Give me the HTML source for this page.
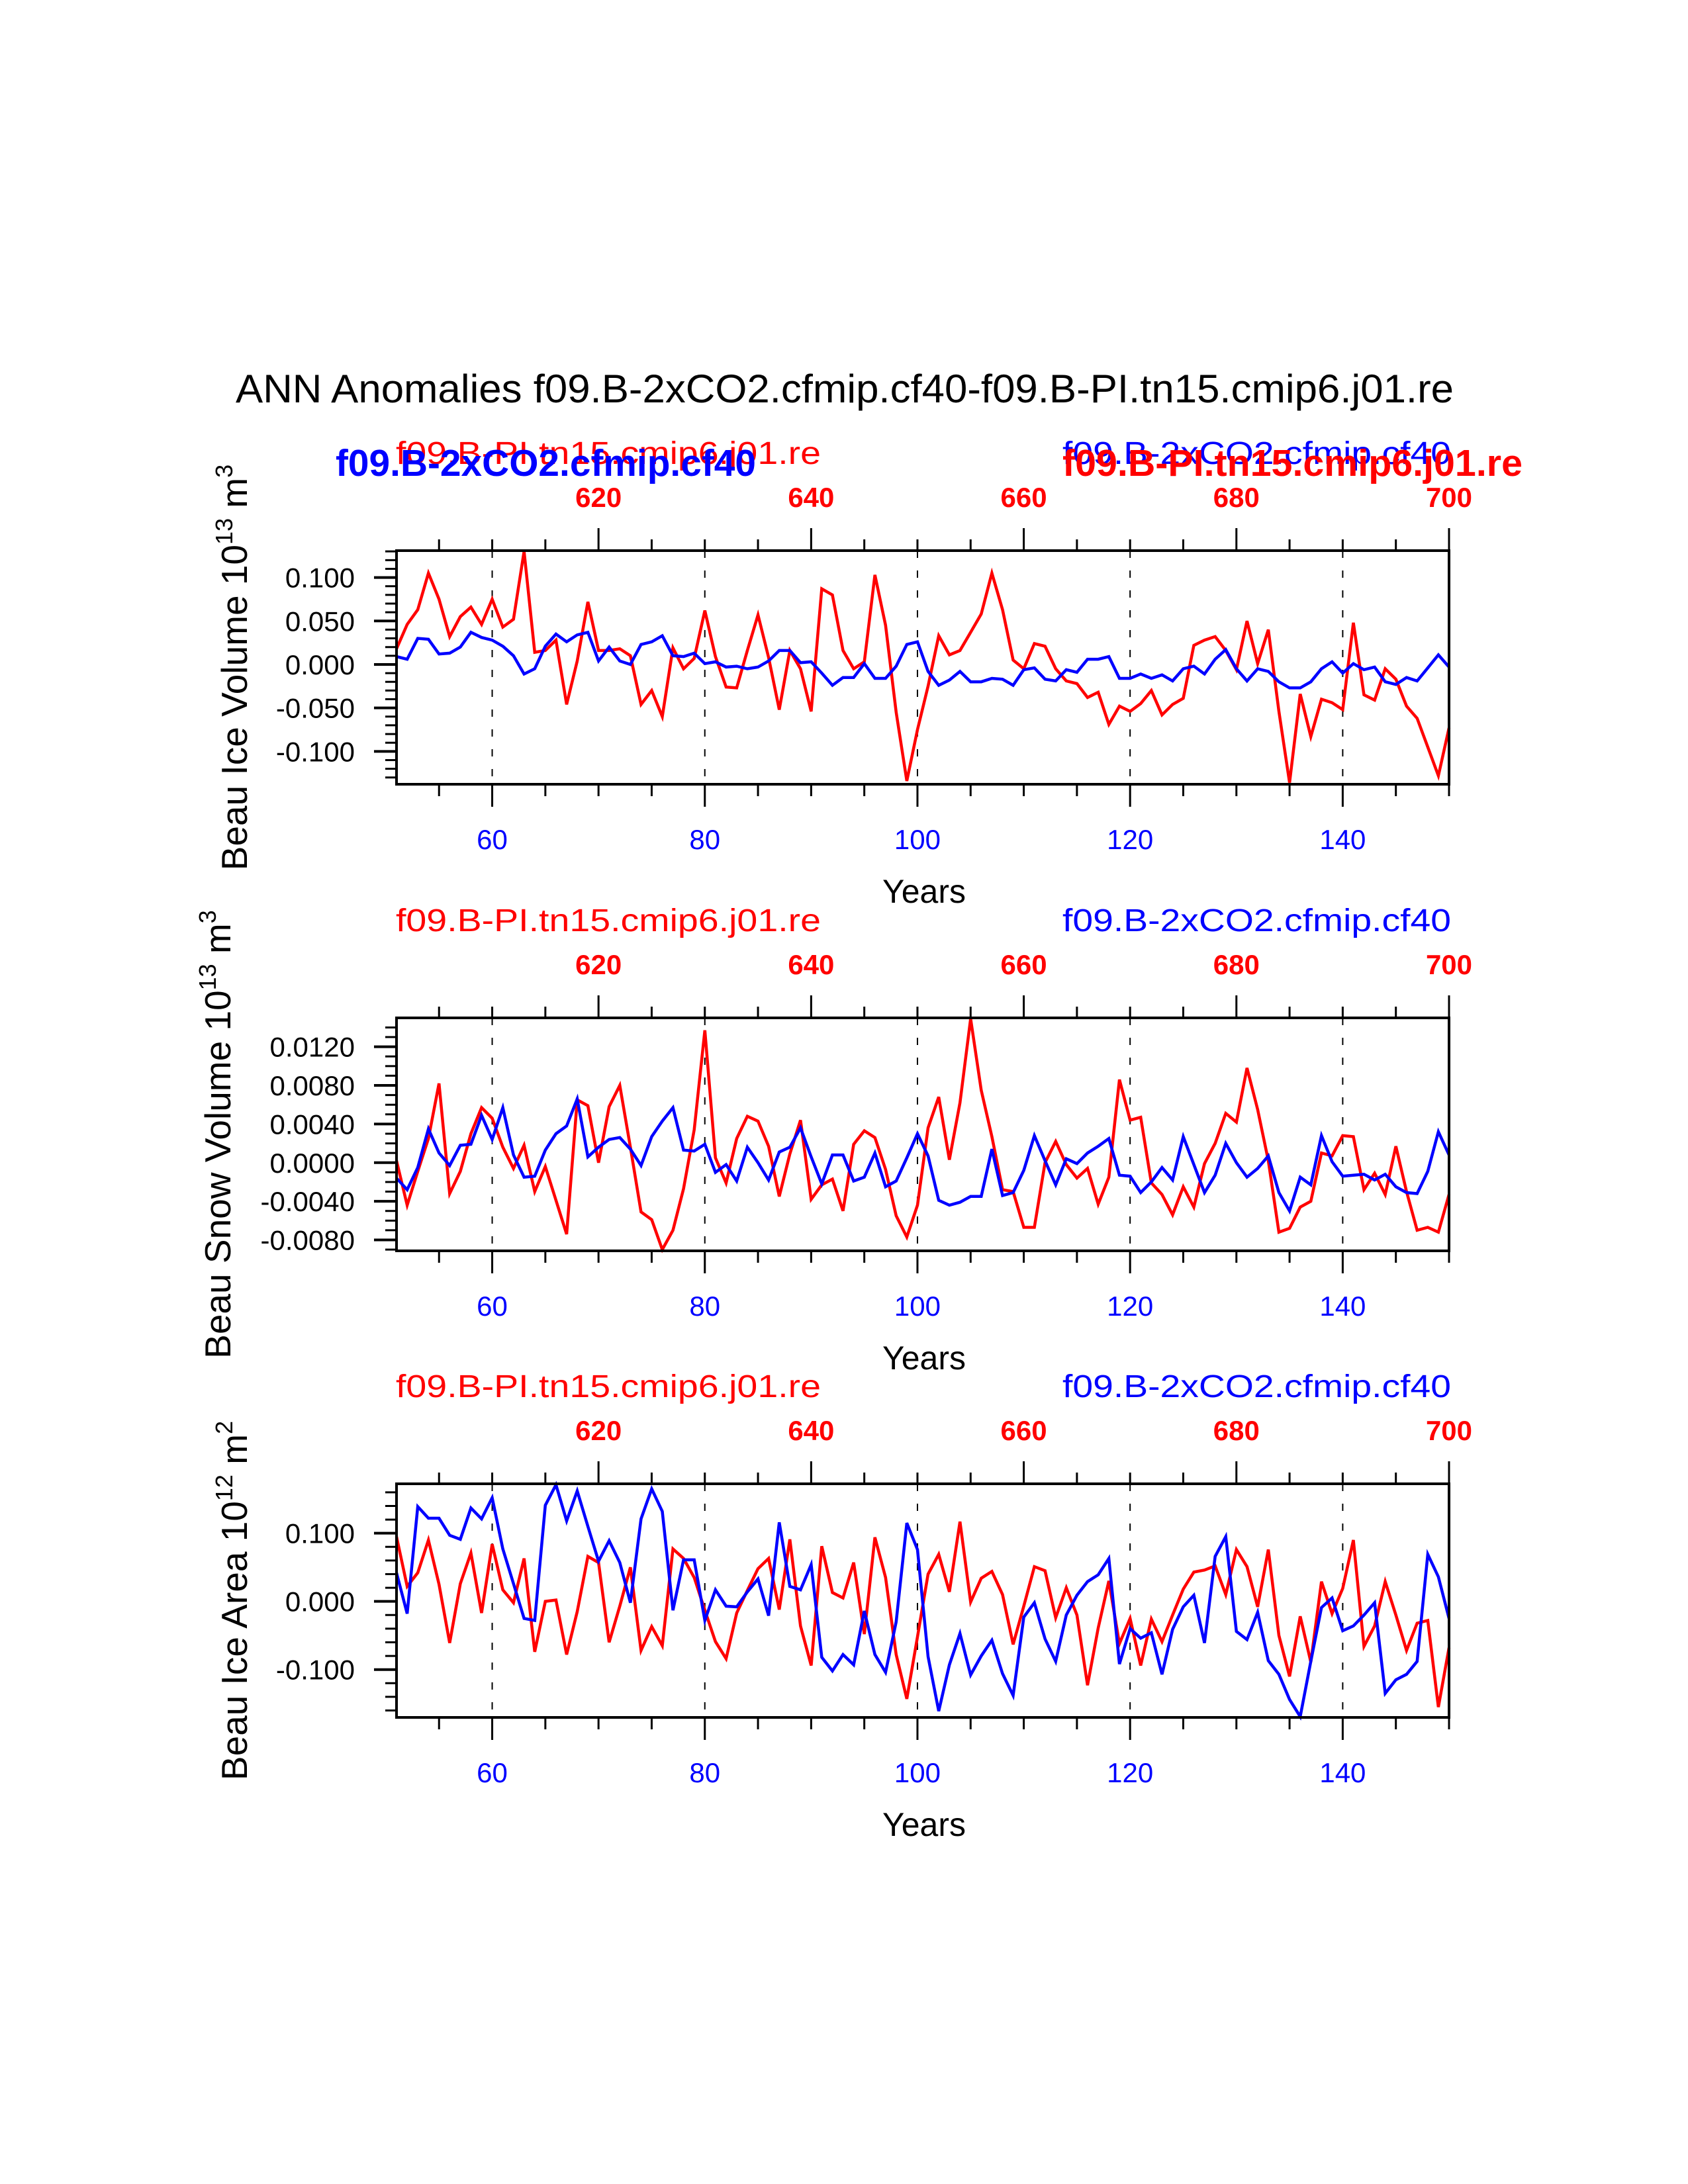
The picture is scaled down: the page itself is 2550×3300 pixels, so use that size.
<!DOCTYPE html>
<html><head><meta charset="utf-8"><style>
html,body{margin:0;padding:0;background:#fff;}
svg{display:block;font-family:"Liberation Sans",Arial,sans-serif;}
</style></head><body>
<svg id="chart" width="2550" height="3300" viewBox="0 0 2550 3300" xmlns="http://www.w3.org/2000/svg">
<rect width="2550" height="3300" fill="#fff"/>
<text x="1276" y="608" font-size="60" text-anchor="middle" textLength="1840" lengthAdjust="spacingAndGlyphs">ANN Anomalies f09.B-2xCO2.cfmip.cf40-f09.B-PI.tn15.cmip6.j01.re</text>
<g id="panels"></g>
</svg>
<script>
const years = [];
for (let y = 51; y <= 150; y++) years.push(y);
const topTickYears = [70, 90, 110, 130, 150];
const topTickLabels = ["620", "640", "660", "680", "700"];
const bottomTickYears = [60, 80, 100, 120, 140];
const bottomTickLabels = ["60", "80", "100", "120", "140"];

const iceVolRed = [0.018,0.046,0.063,0.105,0.075,0.032,0.055,0.066,0.046,0.075,0.043,0.052,0.130,0.014,0.016,0.028,-0.046,0.004,0.072,0.016,0.016,0.018,0.010,-0.046,-0.030,-0.060,0.019,-0.005,0.007,0.062,0.009,-0.026,-0.027,0.016,0.057,0.008,-0.052,0.016,-0.005,-0.054,0.087,0.080,0.016,-0.005,0.003,0.103,0.045,-0.055,-0.134,-0.075,-0.025,0.033,0.011,0.016,0.037,0.058,0.105,0.063,0.005,-0.005,0.024,0.021,-0.005,-0.019,-0.022,-0.038,-0.032,-0.069,-0.048,-0.054,-0.045,-0.030,-0.058,-0.046,-0.039,0.022,0.028,0.032,0.016,-0.006,0.050,0.001,0.040,-0.054,-0.136,-0.034,-0.083,-0.040,-0.044,-0.052,0.048,-0.035,-0.041,-0.005,-0.017,-0.048,-0.062,-0.095,-0.128,-0.073];
const iceVolBlue = [0.009,0.006,0.030,0.029,0.012,0.013,0.020,0.037,0.031,0.028,0.021,0.010,-0.011,-0.005,0.021,0.035,0.026,0.034,0.037,0.004,0.020,0.004,0.000,0.023,0.026,0.033,0.010,0.009,0.013,0.001,0.003,-0.003,-0.002,-0.005,-0.003,0.004,0.016,0.016,0.002,0.003,-0.010,-0.024,-0.015,-0.015,0.001,-0.016,-0.016,-0.002,0.023,0.026,-0.008,-0.024,-0.018,-0.008,-0.020,-0.020,-0.016,-0.017,-0.024,-0.006,-0.004,-0.017,-0.019,-0.006,-0.009,0.006,0.006,0.009,-0.016,-0.016,-0.011,-0.016,-0.012,-0.019,-0.005,-0.002,-0.011,0.006,0.017,-0.005,-0.019,-0.005,-0.008,-0.020,-0.027,-0.027,-0.020,-0.005,0.003,-0.010,0.001,-0.006,-0.003,-0.020,-0.023,-0.015,-0.019,-0.004,0.011,-0.003];
const snowVolRed = [0.0002,-0.0044,-0.0009,0.0025,0.0082,-0.0032,-0.0009,0.0030,0.0057,0.0046,0.0016,-0.0006,0.0018,-0.0030,-0.0004,-0.0039,-0.0074,0.0065,0.0059,0.0000,0.0058,0.0080,0.0016,-0.0051,-0.0059,-0.0090,-0.0070,-0.0027,0.0034,0.0137,0.0005,-0.0021,0.0025,0.0048,0.0043,0.0017,-0.0035,0.0009,0.0044,-0.0038,-0.0023,-0.0017,-0.0050,0.0019,0.0033,0.0026,-0.0007,-0.0055,-0.0077,-0.0044,0.0036,0.0068,0.0003,0.0062,0.0149,0.0075,0.0027,-0.0028,-0.0030,-0.0067,-0.0067,0.0000,0.0022,-0.0002,-0.0016,-0.0006,-0.0043,-0.0015,0.0086,0.0044,0.0047,-0.0021,-0.0033,-0.0054,-0.0025,-0.0046,-0.0001,0.0020,0.0051,0.0042,0.0098,0.0055,0.0002,-0.0072,-0.0068,-0.0046,-0.0040,0.0010,0.0007,0.0028,0.0027,-0.0028,-0.0011,-0.0033,0.0017,-0.0030,-0.0070,-0.0067,-0.0072,-0.0033];
const snowVolBlue = [-0.0016,-0.0028,-0.0005,0.0035,0.0010,-0.0003,0.0018,0.0019,0.0049,0.0024,0.0057,0.0008,-0.0015,-0.0014,0.0013,0.0030,0.0038,0.0066,0.0006,0.0016,0.0024,0.0026,0.0014,-0.0003,0.0027,0.0043,0.0057,0.0013,0.0012,0.0019,-0.0010,-0.0002,-0.0019,0.0016,0.0000,-0.0018,0.0011,0.0016,0.0036,0.0006,-0.0022,0.0008,0.0008,-0.0019,-0.0015,0.0010,-0.0025,-0.0019,0.0005,0.0030,0.0007,-0.0039,-0.0044,-0.0041,-0.0035,-0.0035,0.0014,-0.0034,-0.0031,-0.0008,0.0028,0.0002,-0.0023,0.0004,-0.0001,0.0010,0.0017,0.0025,-0.0013,-0.0014,-0.0031,-0.0020,-0.0005,-0.0018,0.0027,-0.0002,-0.0031,-0.0013,0.0020,0.0000,-0.0015,-0.0006,0.0007,-0.0031,-0.0050,-0.0015,-0.0023,0.0028,0.0001,-0.0014,-0.0013,-0.0012,-0.0018,-0.0012,-0.0025,-0.0031,-0.0032,-0.0009,0.0032,0.0008];
const iceAreaRed = [0.095,0.022,0.042,0.090,0.025,-0.061,0.026,0.071,-0.017,0.084,0.017,-0.002,0.063,-0.074,0.000,0.002,-0.078,-0.015,0.066,0.057,-0.060,-0.007,0.050,-0.072,-0.037,-0.065,0.077,0.063,0.035,-0.013,-0.059,-0.084,-0.017,0.016,0.048,0.063,-0.012,0.091,-0.036,-0.094,0.081,0.013,0.005,0.057,-0.048,0.094,0.035,-0.078,-0.143,-0.052,0.040,0.069,0.014,0.117,-0.001,0.034,0.044,0.010,-0.063,-0.007,0.051,0.045,-0.024,0.020,-0.020,-0.123,-0.039,0.030,-0.062,-0.025,-0.094,-0.026,-0.059,-0.020,0.018,0.043,0.046,0.052,0.010,0.076,0.051,-0.008,0.076,-0.050,-0.110,-0.022,-0.089,0.029,-0.018,0.019,0.090,-0.066,-0.036,0.029,-0.020,-0.072,-0.032,-0.028,-0.155,-0.068];
const iceAreaBlue = [0.042,-0.018,0.139,0.122,0.122,0.097,0.091,0.137,0.121,0.152,0.077,0.026,-0.025,-0.028,0.141,0.171,0.118,0.162,0.110,0.059,0.089,0.057,-0.002,0.121,0.165,0.132,-0.013,0.061,0.061,-0.028,0.017,-0.007,-0.008,0.014,0.033,-0.021,0.116,0.022,0.017,0.054,-0.082,-0.102,-0.078,-0.093,-0.014,-0.078,-0.104,-0.030,0.115,0.076,-0.081,-0.161,-0.093,-0.047,-0.108,-0.080,-0.057,-0.106,-0.138,-0.023,-0.002,-0.055,-0.088,-0.020,0.009,0.029,0.039,0.063,-0.092,-0.040,-0.054,-0.046,-0.107,-0.041,-0.008,0.009,-0.061,0.066,0.095,-0.044,-0.056,-0.016,-0.087,-0.107,-0.144,-0.169,-0.088,-0.009,0.005,-0.043,-0.036,-0.020,-0.002,-0.135,-0.115,-0.107,-0.088,0.069,0.036,-0.025];

const panel1Ticks = [0.1, 0.05, 0, -0.05, -0.1];
const panel1TickLabels = ["0.100", "0.050", "0.000", "-0.050", "-0.100"];
const panel2Ticks = [0.012, 0.008, 0.004, 0, -0.004, -0.008];
const panel2TickLabels = ["0.0120", "0.0080", "0.0040", "0.0000", "-0.0040", "-0.0080"];
const panel3Ticks = [0.1, 0, -0.1];
const panel3TickLabels = ["0.100", "0.000", "-0.100"];

const NS = "http://www.w3.org/2000/svg";
const XL = 599, XR = 2189;
function xScale(yr) { return XL + (yr - 51) * (XR - XL) / 99; }
const g = document.getElementById('panels');
function mk(tag, attrs, parent) {
  const e = document.createElementNS(NS, tag);
  for (const k in attrs) e.setAttribute(k, attrs[k]);
  (parent || g).appendChild(e);
  return e;
}

const panels = [
  {name:"ice-volume", T:832, B:1185, ymin:-0.1378, ymax:0.1309, red:iceVolRed, blue:iceVolBlue, ticks:panel1Ticks, labels:panel1TickLabels, minor:0.01, ylab:"Beau Ice Volume 10", sup1:"13", unit:" m", sup2:"3", ylx:373},
  {name:"snow-volume", T:1538, B:1890, ymin:-0.00913, ymax:0.01499, red:snowVolRed, blue:snowVolBlue, ticks:panel2Ticks, labels:panel2TickLabels, minor:0.001, ylab:"Beau Snow Volume 10", sup1:"13", unit:" m", sup2:"3", ylx:348},
  {name:"ice-area", T:2242, B:2595, ymin:-0.1702, ymax:0.1725, red:iceAreaRed, blue:iceAreaBlue, ticks:panel3Ticks, labels:panel3TickLabels, minor:0.02, ylab:"Beau Ice Area 10", sup1:"12", unit:" m", sup2:"2", ylx:373}
];

panels.forEach((p, idx) => {
  const ys = v => p.B - (v - p.ymin) / (p.ymax - p.ymin) * (p.B - p.T);
  const pg = mk('g', {});
  
  
  bottomTickYears.forEach(yr => {
    const l = mk('line', {x1:xScale(yr), x2:xScale(yr), y1:p.T, y2:p.B, stroke:'#000', 'stroke-width':2, 'stroke-dasharray':'11 19'}, pg);
    
    
  });
  const mkLine = (arr, color, nm) => {
    const pts = arr.map((v, i) => xScale(years[i]).toFixed(1) + ',' + ys(v).toFixed(1)).join(' ');
    const pl = mk('polyline', {points:pts, fill:'none', stroke:color, 'stroke-width':4.5, 'stroke-linejoin':'miter', 'stroke-miterlimit':4}, pg);
    
    
  };
  mkLine(p.red, '#ff0000', p.name + '-pi-line');
  mkLine(p.blue, '#0000ff', p.name + '-2xco2-line');
  const fr = mk('rect', {x:XL, y:p.T, width:XR-XL, height:p.B-p.T, fill:'none', stroke:'#000', 'stroke-width':4}, pg);
  
  
  for (let yr = 55; yr <= 150; yr += 5) {
    const major = (yr % 20 === 0);
    const x = xScale(yr);
    mk('line', {x1:x, x2:x, y1:p.B, y2:p.B + (major ? 34 : 18), stroke:'#000', 'stroke-width':3}, pg);
    const topMajor = ((yr - 70) % 20 === 0);
    mk('line', {x1:x, x2:x, y1:p.T, y2:p.T - (topMajor ? 34 : 17), stroke:'#000', 'stroke-width':3}, pg);
  }
  bottomTickYears.forEach((yr, i) => {
    const t = mk('text', {x:xScale(yr), y:p.B + 98, 'font-size':42, fill:'#0000ff', 'text-anchor':'middle'}, pg);
    t.textContent = bottomTickLabels[i];
    
    
  });
  topTickYears.forEach((yr, i) => {
    const t = mk('text', {x:xScale(yr), y:p.T - 66, 'font-size':42, 'font-weight':'bold', fill:'#ff0000', 'text-anchor':'middle'}, pg);
    t.textContent = topTickLabels[i];
    
    
  });
  const lo = Math.ceil(p.ymin / p.minor), hi = Math.floor(p.ymax / p.minor);
  const majorStep = p.ticks[0] - p.ticks[1];
  for (let k = lo; k <= hi; k++) {
    const v = k * p.minor;
    const isMajor = Math.abs(v / majorStep - Math.round(v / majorStep)) < 1e-6;
    mk('line', {x1:XL, x2:XL - (isMajor ? 34 : 17), y1:ys(v), y2:ys(v), stroke:'#000', 'stroke-width':isMajor ? 4 : 3}, pg);
  }
  p.ticks.forEach((v, i) => {
    const t = mk('text', {x:536, y:ys(v) + 15, 'font-size':42, 'text-anchor':'end'}, pg);
    t.textContent = p.labels[i];
    
    
  });
  const cy = (p.T + p.B) / 2;
  const yt = mk('text', {x:0, y:0, 'font-size':55, 'text-anchor':'middle', transform:'translate(' + p.ylx + ',' + cy + ') rotate(-90)'}, pg);
  
  
  const s1 = mk('tspan', {}, yt); s1.textContent = p.ylab;
  const s2 = mk('tspan', {dy:-22, 'font-size':36}, yt); s2.textContent = p.sup1;
  const s3 = mk('tspan', {dy:22}, yt); s3.textContent = p.unit;
  const s4 = mk('tspan', {dy:-22, 'font-size':36}, yt); s4.textContent = p.sup2;
  const xt = mk('text', {x:1396, y:p.B + 179, 'font-size':50, 'text-anchor':'middle'}, pg);
  xt.textContent = 'Years';
  
  
  const rl = mk('text', {x:598, y:p.T - 131, 'font-size':48, fill:'#ff0000', textLength:642, lengthAdjust:'spacingAndGlyphs'}, pg);
  rl.textContent = 'f09.B-PI.tn15.cmip6.j01.re';
  
  
  const bl = mk('text', {x:1605, y:p.T - 131, 'font-size':48, fill:'#0000ff', textLength:587, lengthAdjust:'spacingAndGlyphs'}, pg);
  bl.textContent = 'f09.B-2xCO2.cfmip.cf40';
  
  
  if (idx === 0) {
    const bb = mk('text', {x:507, y:p.T - 113, 'font-size':57, 'font-weight':'bold', fill:'#0000ff', textLength:635, lengthAdjust:'spacingAndGlyphs'}, pg);
    bb.textContent = 'f09.B-2xCO2.cfmip.cf40';
    
    
    const rb = mk('text', {x:1605, y:p.T - 113, 'font-size':57, 'font-weight':'bold', fill:'#ff0000', textLength:695, lengthAdjust:'spacingAndGlyphs'}, pg);
    rb.textContent = 'f09.B-PI.tn15.cmip6.j01.re';
    
    
  }
});
</script>
</body></html>
